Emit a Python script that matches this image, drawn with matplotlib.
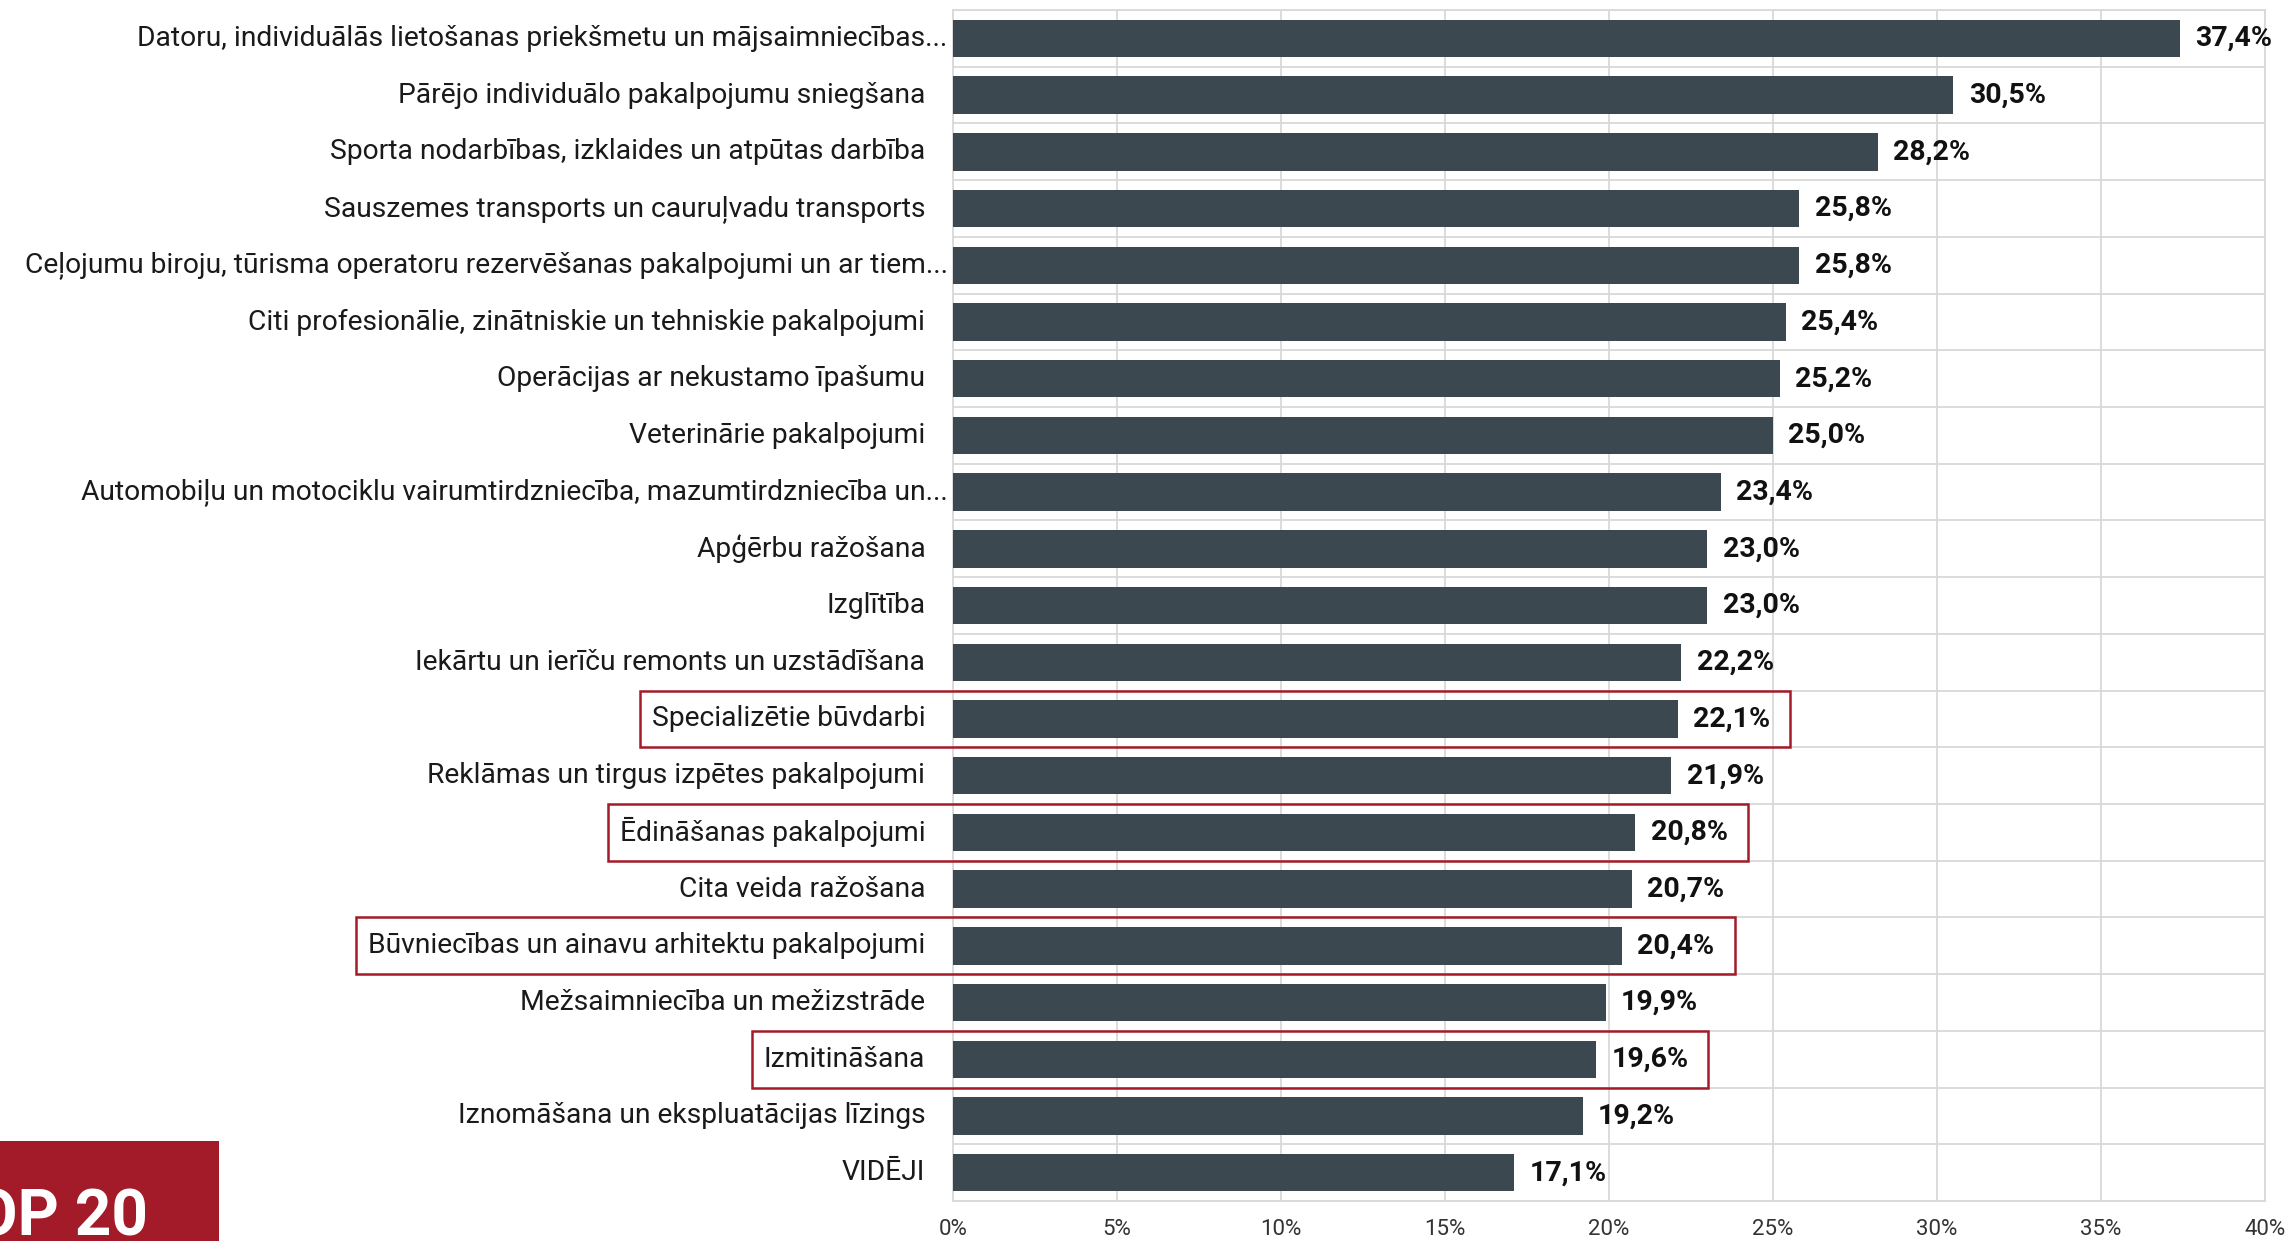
import matplotlib
matplotlib.use("Agg")
import matplotlib.pyplot as plt
import numpy as np
from matplotlib.patches import Rectangle

plt.rcParams["font.family"] = ["Roboto", "DejaVu Sans"]

categories = [
    "Datoru, individuālās lietošanas priekšmetu un mājsaimniecības...",
    "Pārējo individuālo pakalpojumu sniegšana",
    "Sporta nodarbības, izklaides un atpūtas darbība",
    "Sauszemes transports un cauruļvadu transports",
    "Ceļojumu biroju, tūrisma operatoru rezervēšanas pakalpojumi un ar tiem...",
    "Citi profesionālie, zinātniskie un tehniskie pakalpojumi",
    "Operācijas ar nekustamo īpašumu",
    "Veterinārie pakalpojumi",
    "Automobiļu un motociklu vairumtirdzniecība, mazumtirdzniecība un...",
    "Apģērbu ražošana",
    "Izglītība",
    "Iekārtu un ierīču remonts un uzstādīšana",
    "Specializētie būvdarbi",
    "Reklāmas un tirgus izpētes pakalpojumi",
    "Ēdināšanas pakalpojumi",
    "Cita veida ražošana",
    "Būvniecības un ainavu arhitektu pakalpojumi",
    "Mežsaimniecība un mežizstrāde",
    "Izmitināšana",
    "Iznomāšana un ekspluatācijas līzings",
    "VIDĒJI",
]
values = [37.4, 30.5, 28.2, 25.8, 25.8, 25.4, 25.2, 25.0, 23.4, 23.0, 23.0,
          22.2, 22.1, 21.9, 20.8, 20.7, 20.4, 19.9, 19.6, 19.2, 17.1]
highlighted = ["Specializētie būvdarbi", "Ēdināšanas pakalpojumi",
               "Būvniecības un ainavu arhitektu pakalpojumi", "Izmitināšana"]
x_ticks = [0, 5, 10, 15, 20, 25, 30, 35, 40]
badge_text = "TOP 20"

bar_color = "#3c4850"
red = "#a31b28"
grid_color = "#d9d9d9"

fig = plt.figure(figsize=(22.9, 12.41), dpi=100)
ax = fig.add_axes([0.4162, 0.0322, 0.5729, 0.9597])

y = np.arange(len(categories))
ax.barh(y, values, height=0.66, color=bar_color, zorder=3)
ax.set_ylim(len(categories) - 0.5, -0.5)
ax.set_xlim(0, 40)

ax.set_xticks(x_ticks, [f"{t}%" for t in x_ticks], fontsize=16, color="#333333")
ax.set_yticks([])
ax.set_yticks(np.arange(-0.5, len(categories)), minor=True)
ax.tick_params(axis="both", which="both", length=0)
ax.tick_params(axis="x", pad=13)
ax.grid(True, axis="x", color=grid_color, linewidth=1.3, zorder=0)
ax.grid(True, axis="y", which="minor", color=grid_color, linewidth=1.3, zorder=0)
for spine in ax.spines.values():
    spine.set_color(grid_color)
    spine.set_linewidth(1.3)

label_texts = {}
value_texts = {}
for i, (cat, val) in enumerate(zip(categories, values)):
    # truncated labels sit closer to the axis
    pad = -4 if cat.endswith("...") else -20
    label_texts[cat] = ax.annotate(cat, xy=(0, i), xytext=(pad, 0), textcoords="offset points",
                                   ha="right", va="center", fontsize=20.3, color="#1a1a1a")
    txt = f"{val:.1f}%".replace(".", ",")
    value_texts[cat] = ax.annotate(txt, xy=(val, i), xytext=(11, 0), textcoords="offset points",
                                   ha="left", va="center", fontsize=20.5, fontweight="bold",
                                   color="#111111")

fig.canvas.draw()
renderer = fig.canvas.get_renderer()
inv = fig.transFigure.inverted()
for cat in highlighted:
    i = categories.index(cat)
    lb = label_texts[cat].get_window_extent(renderer)
    vb = value_texts[cat].get_window_extent(renderer)
    _, y_top = ax.transData.transform((0, i - 0.5))
    _, y_bot = ax.transData.transform((0, i + 0.5))
    (fx0, fy0) = inv.transform((lb.x0 - 12, y_bot))
    (fx1, fy1) = inv.transform((vb.x1 + 20, y_top))
    fig.add_artist(Rectangle((fx0, fy0), fx1 - fx0, fy1 - fy0, transform=fig.transFigure,
                             fill=False, edgecolor=red, linewidth=1.8, zorder=10))

# red badge in the bottom-left corner, cut by the figure edge
fig.add_artist(Rectangle((0, 0), 219 / 2290, 100 / 1241, transform=fig.transFigure,
                         facecolor=red, edgecolor="none", zorder=5))
fig.text(148 / 2290, 6 / 1241, badge_text, ha="right", va="baseline", fontsize=46,
         fontweight="bold", color="white", zorder=6)

fig.savefig("out.png", dpi=100)
